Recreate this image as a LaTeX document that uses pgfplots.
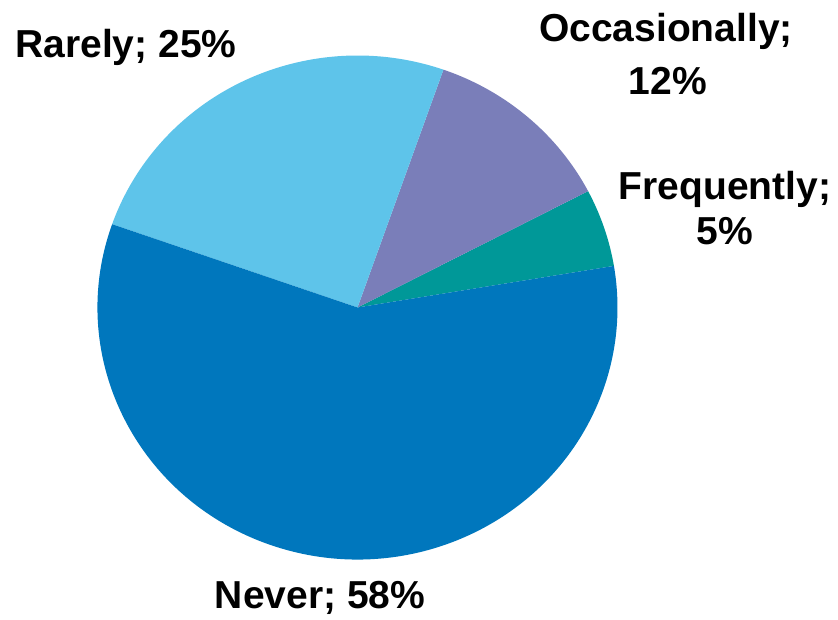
\documentclass[border=0pt]{standalone}
\usepackage{pgfplots}
\pgfplotsset{compat=1.18}
\usepackage{pgfplotstable}
\usepackage{fontspec}
\setmainfont{Liberation Sans}
\definecolor{cNever}{RGB}{0,119,189}
\definecolor{cRarely}{RGB}{94,196,234}
\definecolor{cOcc}{RGB}{122,126,185}
\definecolor{cFreq}{RGB}{0,152,152}
\pgfplotstableread[col sep=comma]{
label,value
Frequently,5
Occasionally,12
Rarely,25
Never,58
}\piedata
\begin{document}
\begin{tikzpicture}
\pgfmathsetmacro\aZero{9.5}
\pgfplotstablegetelem{0}{value}\of\piedata
\pgfmathsetmacro\aOne{\aZero+3.6*\pgfplotsretval}
\pgfplotstablegetelem{1}{value}\of\piedata
\pgfmathsetmacro\aTwo{\aOne+3.6*\pgfplotsretval}
\pgfplotstablegetelem{2}{value}\of\piedata
\pgfmathsetmacro\aThree{\aTwo+3.6*\pgfplotsretval}
\pgfplotstablegetelem{3}{value}\of\piedata
\pgfmathsetmacro\aFour{\aThree+3.6*\pgfplotsretval}
\begin{axis}[x=1pt,y=1pt,xmin=0,xmax=838,ymin=0,ymax=619,
  hide axis,scale only axis,clip=false]
\path (axis cs:0,0) rectangle (axis cs:838,619);
\fill[cFreq] (axis cs:357.5,311.5) -- ++(\aZero:260pt and 252pt)
  arc[start angle=\aZero,end angle=\aOne,x radius=260pt,y radius=252pt] -- cycle;
\fill[cOcc] (axis cs:357.5,311.5) -- ++(\aOne:260pt and 252pt)
  arc[start angle=\aOne,end angle=\aTwo,x radius=260pt,y radius=252pt] -- cycle;
\fill[cRarely] (axis cs:357.5,311.5) -- ++(\aTwo:260pt and 252pt)
  arc[start angle=\aTwo,end angle=\aThree,x radius=260pt,y radius=252pt] -- cycle;
\fill[cNever] (axis cs:357.5,311.5) -- ++(\aThree:260pt and 252pt)
  arc[start angle=\aThree,end angle=\aFour,x radius=260pt,y radius=252pt] -- cycle;
\tikzset{lbl/.style={anchor=base,inner sep=0pt,font=\fontsize{39}{46}\selectfont\bfseries}}
\node[lbl] at (axis cs:126,561) {Rarely; 25\%};
\node[lbl] at (axis cs:666,577) {Occasionally;};
\node[lbl] at (axis cs:668,524) {12\%};
\node[lbl] at (axis cs:725,419) {Frequently;};
\node[lbl] at (axis cs:725,374) {5\%};
\node[lbl] at (axis cs:320,11) {Never; 58\%};
\end{axis}
\end{tikzpicture}
\end{document}
